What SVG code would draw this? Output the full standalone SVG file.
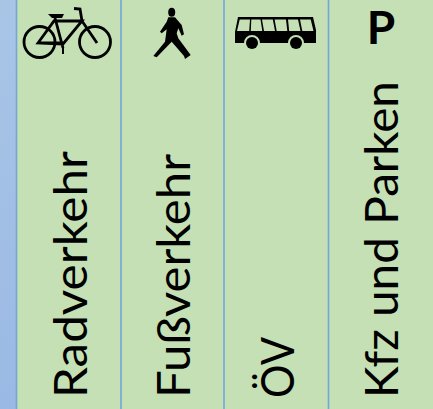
<svg xmlns="http://www.w3.org/2000/svg" width="433" height="409" viewBox="0 0 433 409">
<style>
.l{font-family:"Lato","Open Sans","Liberation Sans",sans-serif;font-size:46px;fill:#000}
.d{stroke:#74a5db;stroke-width:1.600;fill:none}
.k{fill:none;stroke:#000}
</style>
<defs><linearGradient id="s" x1="0" y1="0" x2="0" y2="1"><stop offset="0" stop-color="#a9c5e6"/><stop offset="1" stop-color="#9ab9e4"/></linearGradient></defs>
<rect width="433" height="409" fill="#c5e0b4"/>
<rect width="16" height="409" fill="url(#s)"/>
<g id="dividers">
<path class="d" d="M16.500 0V409M121 0V409M224 0V409M328.500 0V409"/>
</g>
<g id="rad">
<g class="k" stroke-width="2.800">
<circle cx="39.500" cy="42" r="15.500"/><circle cx="95" cy="42" r="15.500"/>
<path d="M38 43L54 21H82L63 44ZM55 18L63 48M38 43H63M82 21L97 43M82 21L80 9L74 8.500"/>
</g>
<path d="M48 14h16l-2 4h-10zM62 47h2l0 7h-2z"/>
<text class="l" transform="translate(87 398) rotate(-90)" textLength="247" lengthAdjust="spacingAndGlyphs">Radverkehr</text>
</g>
<g id="fuss">
<ellipse cx="171.700" cy="12.300" rx="3.500" ry="4.500"/>
<path d="M168.300 17.300L175 17.300L181.700 25L184 34.300L181.700 35.700L178.300 28.300L176.700 33.300L178.300 38.300L190.700 55L185 59L184 56L171.700 41.700L156.700 57.300L153.300 56L165 41.700L166.700 29.300L161.700 33.300L160 31.700L166.700 21.700Z"/>
<text class="l" transform="translate(190 398) rotate(-90)" textLength="244" lengthAdjust="spacingAndGlyphs">Fußverkehr</text>
</g>
<g id="oev">
<path fill-rule="evenodd" d="M238 17H313L316 30V43H304a8 8 0 0 0-16 0H260a8 8 0 0 0-16 0H235V32ZM239.700 19.500L237 31H249.200L250 19.500ZM251.300 19.500L250.800 31H262.300L260.500 19.500ZM262 19.500L264 31H275L272.800 19.500ZM274.600 19.500L276.700 31H287.300L286 19.500ZM288 19.500L289.200 31H300.500L298 19.500ZM300 19.500L302.300 31H313.500L310.700 19.500Z"/>
<circle cx="252" cy="43" r="6"/><circle cx="296" cy="43" r="6"/>
<text class="l" transform="translate(294 398) rotate(-90)" textLength="61" lengthAdjust="spacingAndGlyphs">ÖV</text>
</g>
<g id="kfz">
<text x="381" y="44" text-anchor="middle" style="font-family:Lato,'Open Sans','Liberation Sans',sans-serif;font-size:46px;font-weight:700">P</text>
<text class="l" transform="translate(398 398) rotate(-90)" textLength="317" lengthAdjust="spacingAndGlyphs">Kfz und Parken</text>
</g>
</svg>
